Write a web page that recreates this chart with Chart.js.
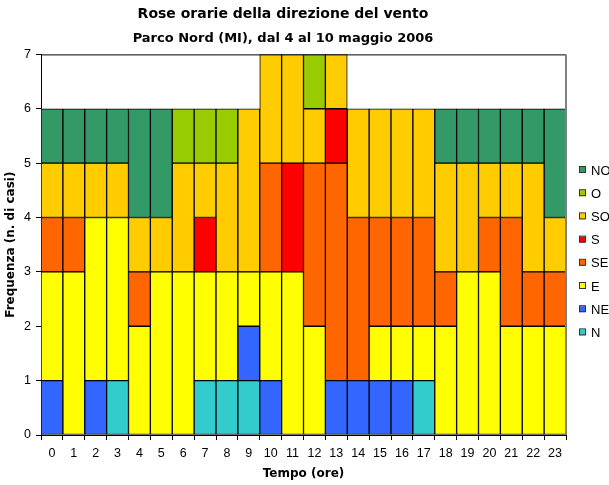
<!DOCTYPE html>
<html>
<head>
<meta charset="utf-8">
<script src="https://cdn.jsdelivr.net/npm/chart.js@4/dist/chart.umd.min.js"></script>
<style>
  html, body { margin: 0; padding: 0; background: #fff; }
  #wrap { width: 609px; height: 485px; }
</style>
</head>
<body>
<div id="wrap"><canvas id="rose" width="609" height="485"></canvas></div>
<script>
// Ore del giorno
const ore = ["0","1","2","3","4","5","6","7","8","9","10","11","12","13","14","15","16","17","18","19","20","21","22","23"];

// Frequenze per direzione (stack dal basso verso l'alto)
const N  = [0,0,0,1,0,0,0,1,1,1,0,0,0,0,0,0,0,1,0,0,0,0,0,0];
const NE = [1,0,1,0,0,0,0,0,0,1,1,0,0,1,1,1,1,0,0,0,0,0,0,0];
const E  = [2,3,3,3,2,3,3,2,2,1,2,3,2,0,0,1,1,1,2,3,3,2,2,2];
const SE = [1,1,0,0,1,0,0,0,0,0,2,0,3,4,3,2,2,2,1,0,1,2,1,1];
const S  = [0,0,0,0,0,0,0,1,0,0,0,2,0,1,0,0,0,0,0,0,0,0,0,0];
const SO = [1,1,1,1,1,1,2,1,2,3,2,2,1,1,2,2,2,2,2,2,1,1,2,1];
const O  = [0,0,0,0,0,0,1,1,1,0,0,0,1,0,0,0,0,0,0,0,0,0,0,0];
const NO = [1,1,1,1,2,2,0,0,0,0,0,0,0,0,0,0,0,0,1,1,1,1,1,2];

const yTicks = [0,1,2,3,4,5,6,7];

const FONT = "'Liberation Sans', Arial, sans-serif";
const FONT_TIT = "'DejaVu Sans', 'Liberation Sans', sans-serif";

function serie(label, data, color) {
  return {
    label: label,
    data: data,
    backgroundColor: color,
    borderColor: "#000",
    borderWidth: 1,
    borderSkipped: false,
    barPercentage: 1,
    categoryPercentage: 1
  };
}

// legenda a destra, disegnata a mano (tagliata dal bordo come nell'originale)
const legendaDestra = {
  id: "legendaDestra",
  afterDraw(chart) {
    const ctx = chart.ctx;
    const ds = chart.data.datasets.slice().reverse();
    ctx.save();
    ctx.font = "13px " + FONT;
    ctx.textBaseline = "middle";
    ds.forEach((d, i) => {
      const y = 170 + i * 23.2;
      ctx.fillStyle = d.backgroundColor;
      ctx.fillRect(579, y - 3, 6, 6);
      ctx.strokeStyle = "#333";
      ctx.lineWidth = 1;
      ctx.strokeRect(579.5, y - 3.5, 6, 6);
      ctx.fillStyle = "#000";
      ctx.fillText(d.label, 591, y + 1);
    });
    ctx.restore();
  }
};

// bordo superiore e destro dell'area del grafico
const bordoArea = {
  id: "bordoArea",
  afterDatasetsDraw(chart) {
    const a = chart.chartArea;
    const ctx = chart.ctx;
    ctx.save();
    ctx.lineWidth = 1;
    ctx.strokeStyle = "#000";
    ctx.beginPath();
    ctx.moveTo(a.left, a.top + 0.5);
    ctx.lineTo(a.right, a.top + 0.5);
    ctx.stroke();
    ctx.strokeStyle = "#808080";
    ctx.lineWidth = 2;
    ctx.beginPath();
    ctx.moveTo(a.right, a.top);
    ctx.lineTo(a.right, a.bottom);
    ctx.stroke();
    ctx.restore();
  }
};

new Chart(document.getElementById("rose"), {
  type: "bar",
  data: {
    labels: ore,
    datasets: [
      serie("N", N, "#33CCCC"),
      serie("NE", NE, "#3366FF"),
      serie("E", E, "#FFFF00"),
      serie("SE", SE, "#FF6600"),
      serie("S", S, "#FF0000"),
      serie("SO", SO, "#FFCC00"),
      serie("O", O, "#99CC00"),
      serie("NO", NO, "#339966")
    ]
  },
  options: {
    responsive: false,
    animation: false,
    layout: { padding: { left: 0, right: 43, top: 0, bottom: 0 } },
    plugins: {
      legend: { display: false },
      tooltip: { enabled: false },
      title: {
        display: true,
        text: "Rose orarie della direzione del vento",
        color: "#000",
        font: { family: FONT_TIT, size: 14, weight: "bold", lineHeight: 1.2 },
        padding: { top: 6, bottom: 0 }
      },
      subtitle: {
        display: true,
        text: "Parco Nord (MI), dal 4 al 10 maggio 2006",
        color: "#000",
        font: { family: FONT_TIT, size: 13, weight: "bold", lineHeight: 1.2 },
        padding: { top: 8, bottom: 8 }
      }
    },
    scales: {
      x: {
        stacked: true,
        grid: { display: true, drawOnChartArea: false, offset: true, color: "#000", tickLength: 5, tickColor: "#000" },
        border: { display: true, color: "#000", width: 1 },
        ticks: { color: "#000", font: { family: FONT, size: 12.5 }, padding: 6, maxRotation: 0, autoSkip: false },
        title: { display: true, text: "Tempo (ore)", color: "#000", font: { family: FONT_TIT, size: 12, weight: "bold" }, padding: { top: 2, bottom: 4 } },
        afterFit(scale) { scale.height = 50; }
      },
      y: {
        stacked: true,
        min: 0,
        max: 7,
        afterBuildTicks(scale) { scale.ticks = yTicks.map(v => ({ value: v })); },
        grid: { display: true, drawOnChartArea: false, color: "#000", tickLength: 5, tickColor: "#000" },
        border: { display: true, color: "#000", width: 1 },
        ticks: { color: "#000", font: { family: FONT, size: 12.5 }, padding: 5 },
        title: { display: true, text: "Frequenza (n. di casi)", color: "#000", font: { family: FONT_TIT, size: 12, weight: "bold" }, padding: { top: 4, bottom: 2 } },
        afterFit(scale) { scale.width = 41; }
      }
    }
  },
  plugins: [bordoArea, legendaDestra]
});
</script>
</body>
</html>
